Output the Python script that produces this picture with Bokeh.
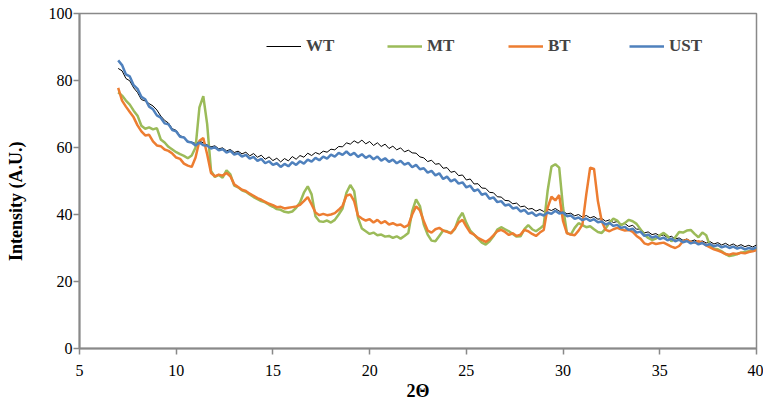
from bokeh.plotting import figure
from bokeh.models import FixedTicker, Legend, LegendItem, Range1d
from bokeh.embed import file_html
from bokeh.resources import INLINE

# 2-theta grid (step 0.2 from 7.0 to 40.0)
two_theta = [round(7.0 + 0.2 * i, 1) for i in range(166)]

wt = [83.6, 82.9, 80.6, 79.9, 77.8, 76.4, 74.3, 73.9, 73.1, 72.4,
      71.2, 69.4, 68.1, 67.3, 65.6, 65.1, 63.5, 63.1, 61.9, 61.6,
      61.2, 61.9, 61.4, 60.8, 60.2, 60.5, 59.6, 59.9, 59.0, 59.4,
      58.5, 58.9, 58.1, 58.6, 57.5, 58.2, 57.1, 57.7, 56.5, 57.2,
      56.1, 56.8, 55.7, 56.7, 56.0, 57.3, 56.5, 57.6, 57.1, 58.3,
      57.6, 58.5, 58.0, 58.9, 58.6, 59.5, 59.3, 60.3, 60.2, 61.4,
      61.0, 62.0, 61.3, 62.2, 61.1, 61.8, 60.6, 61.4, 60.3, 61.0,
      59.7, 60.4, 59.3, 59.9, 58.7, 59.2, 58.4, 58.3, 57.2, 56.9,
      55.8, 56.2, 55.0, 55.2, 53.8, 54.0, 52.6, 52.9, 51.6, 51.8,
      50.3, 50.6, 49.1, 49.2, 47.9, 47.8, 46.6, 46.5, 45.3, 45.2,
      44.2, 44.1, 43.2, 43.4, 42.3, 42.5, 41.6, 41.8, 41.0, 41.5,
      40.9, 41.6, 41.2, 41.8, 41.0, 40.9, 40.2, 40.4, 39.6, 40.0,
      39.2, 39.7, 39.0, 39.4, 38.6, 38.8, 38.0, 38.4, 37.6, 37.9,
      37.1, 37.3, 36.4, 36.8, 35.6, 35.7, 34.5, 34.8, 34.0, 34.3,
      33.6, 33.9, 33.1, 33.5, 32.7, 33.0, 32.3, 32.7, 32.0, 32.4,
      31.8, 32.1, 31.5, 31.9, 31.2, 31.6, 30.9, 31.4, 30.7, 31.2,
      30.5, 31.0, 30.4, 30.8, 30.3, 30.9]

mt = [76.5, 75.5, 74.0, 72.8, 71.0, 69.5, 66.5, 65.6, 66.0, 65.4,
      65.8, 62.4, 61.5, 60.2, 59.4, 58.6, 58.0, 57.5, 56.8, 57.6,
      60.0, 72.0, 75.3, 67.0, 53.0, 51.2, 51.8, 51.0, 53.2, 52.0,
      48.6, 48.1, 47.2, 46.8, 46.0, 45.2, 44.6, 44.0, 43.6, 42.9,
      42.3, 41.6, 41.4, 40.8, 40.6, 40.9, 42.0, 43.6, 46.5, 48.4,
      46.0, 39.5, 38.0, 37.8, 38.2, 37.6, 38.4, 40.0, 41.8, 46.5,
      48.8, 47.0, 39.0, 35.8, 35.0, 34.2, 34.6, 33.8, 34.0, 33.4,
      33.6, 33.0, 33.5, 32.8, 33.6, 34.5, 41.0, 44.5, 42.5, 37.0,
      34.0, 32.2, 32.0, 33.6, 35.2, 35.0, 34.4, 35.6, 38.8, 40.5,
      37.5, 35.2, 34.0, 32.8, 31.6, 31.0, 32.0, 33.5, 35.5, 36.2,
      35.6, 35.0, 34.2, 33.4, 33.5, 35.6, 36.8, 35.6, 35.0, 35.8,
      36.8, 47.0, 54.3, 55.0, 54.0, 42.0, 34.5, 34.0, 36.0, 37.4,
      36.8, 36.2, 36.5, 35.6, 34.8, 34.5, 35.8, 37.6, 38.8, 38.2,
      36.8, 37.5, 38.4, 38.0, 37.2, 35.6, 34.0, 33.0, 32.4, 32.8,
      33.8, 34.5, 33.6, 32.0, 33.2, 34.8, 34.6, 35.2, 35.4, 34.2,
      33.2, 34.6, 33.8, 30.6, 29.8, 29.6, 29.0, 28.2, 27.6, 27.8,
      28.2, 28.6, 28.8, 29.0, 29.4, 29.8]

bt = [77.8, 74.0, 72.2, 70.6, 69.0, 66.6, 64.8, 63.6, 63.8, 61.8,
      60.6, 60.4, 59.4, 59.0, 58.2, 57.0, 56.6, 55.2, 54.6, 54.2,
      57.0, 62.0, 62.8, 58.0, 52.4, 51.4, 51.9, 51.6, 52.4, 51.4,
      49.0, 48.2, 47.4, 47.0, 46.2, 45.6, 44.9, 44.4, 43.8, 43.2,
      42.8, 42.2, 42.3, 41.8, 42.0, 42.2, 42.4, 42.9, 44.0, 45.2,
      43.0, 40.6, 39.8, 40.2, 39.8, 40.0, 40.4, 41.4, 42.6, 45.6,
      46.0, 44.0, 39.6, 38.8, 38.2, 38.6, 37.6, 38.4, 37.4, 38.0,
      37.0, 37.4, 36.8, 37.0, 36.2, 36.8, 40.0, 42.4, 41.2, 38.0,
      35.2, 34.6, 35.6, 36.0, 35.2, 34.8, 34.4, 35.8, 37.6, 38.4,
      36.4, 34.6, 34.0, 33.0, 32.4, 31.8, 32.6, 33.8, 35.0, 35.4,
      34.8, 33.9, 34.4, 33.6, 34.0, 35.4, 35.0, 34.2, 33.6, 34.6,
      35.4, 42.0, 45.3, 44.2, 45.8, 38.0, 34.4, 34.0, 33.8, 35.2,
      37.0, 46.0, 54.0, 53.6, 44.0, 38.0, 35.4, 35.0, 35.6, 36.0,
      35.6, 35.2, 35.4, 34.8, 33.6, 32.8, 31.4, 31.0, 31.6, 31.2,
      31.4, 31.6, 31.0, 30.4, 30.0, 30.6, 32.0, 32.4, 31.8, 31.6,
      32.0, 31.6, 30.8, 30.2, 29.6, 29.2, 28.8, 28.2, 28.0, 28.4,
      28.2, 28.6, 28.4, 28.8, 29.0, 29.4]

ust = [86.0, 84.6, 81.8, 81.2, 78.6, 77.5, 75.1, 74.4, 72.2, 71.4,
       69.6, 68.9, 67.2, 66.9, 65.2, 64.8, 63.2, 63.0, 61.7, 61.5,
       60.6, 61.5, 60.7, 60.6, 59.7, 60.1, 59.2, 59.5, 58.5, 59.0,
       57.9, 58.3, 57.3, 57.8, 56.7, 57.2, 56.0, 56.6, 55.3, 55.9,
       54.8, 55.3, 54.2, 55.1, 54.4, 55.6, 54.8, 55.9, 55.2, 56.4,
       55.8, 56.9, 56.2, 57.3, 56.7, 57.9, 57.3, 58.4, 57.8, 58.8,
       57.7, 58.4, 57.2, 58.0, 56.9, 57.6, 56.5, 57.3, 56.1, 56.8,
       55.7, 56.4, 55.3, 56.0, 54.9, 55.4, 54.1, 54.8, 53.5, 53.8,
       52.5, 53.0, 51.7, 52.3, 50.6, 51.3, 49.9, 50.5, 49.2, 49.6,
       48.1, 48.6, 47.0, 47.5, 45.9, 46.3, 44.7, 45.1, 43.7, 44.0,
       42.7, 43.0, 41.8, 42.1, 40.9, 41.4, 40.2, 40.6, 39.6, 40.2,
       39.7, 40.6, 40.2, 41.1, 40.3, 40.6, 39.5, 39.7, 38.7, 39.1,
       38.3, 38.8, 38.1, 38.6, 37.7, 37.9, 37.0, 37.5, 36.6, 36.9,
       36.0, 36.3, 35.4, 35.8, 34.6, 34.9, 33.6, 34.0, 33.1, 33.5,
       32.7, 33.1, 32.3, 32.8, 32.0, 32.5, 31.7, 32.1, 31.4, 31.8,
       31.1, 31.5, 30.8, 31.2, 30.5, 30.9, 30.2, 30.6, 30.0, 30.4,
       29.8, 30.2, 29.6, 30.0, 29.7, 30.2]

series_names = ["WT", "MT", "BT", "UST"]
x_ticks = [5, 10, 15, 20, 25, 30, 35, 40]
y_ticks = [0, 20, 40, 60, 80, 100]

FONT = "Liberation Serif"
AXIS_GRAY = "#898989"

p = figure(width=763, height=403, output_backend="svg", toolbar_location=None,
           x_range=Range1d(5, 40), y_range=Range1d(0, 100),
           min_border_left=79, min_border_right=7, min_border_top=13, min_border_bottom=54)
p.background_fill_color = "white"
p.border_fill_color = "white"
p.outline_line_color = AXIS_GRAY
p.outline_line_width = 1.5
p.xgrid.visible = False
p.ygrid.visible = False

r_wt = p.line(two_theta, wt, line_color="black", line_width=1)
r_mt = p.line(two_theta, mt, line_color="#9BBB59", line_width=2.5)
r_bt = p.line(two_theta, bt, line_color="#ED7D31", line_width=2.5)
r_ust = p.line(two_theta, ust, line_color="#4F81BD", line_width=2.5)

for ax in (p.xaxis[0], p.yaxis[0]):
    ax.axis_line_color = AXIS_GRAY
    ax.axis_line_width = 2
    ax.major_tick_line_color = AXIS_GRAY
    ax.major_tick_line_width = 1.5
    ax.major_tick_out = 6
    ax.major_tick_in = 0
    ax.minor_tick_line_color = None
    ax.major_label_text_font = FONT
    ax.major_label_text_font_size = "16px"
    ax.major_label_text_color = "black"
    ax.axis_label_text_font = FONT
    ax.axis_label_text_font_size = "18px"
    ax.axis_label_text_font_style = "bold"
    ax.axis_label_text_color = "black"

p.xaxis[0].major_label_standoff = 10
p.yaxis[0].major_label_standoff = 1
p.xaxis[0].ticker = FixedTicker(ticks=x_ticks)
p.yaxis[0].ticker = FixedTicker(ticks=y_ticks)
p.xaxis[0].axis_label = "2Θ"
p.xaxis[0].axis_label_standoff = 2
# trailing no-break spaces shift the visible title a little below the frame centre
p.yaxis[0].axis_label = "Intensity (A.U.)" + "\u00a0" * 9
p.yaxis[0].axis_label_standoff = 20

legend = Legend(items=[LegendItem(label=n, renderers=[r]) for n, r in
                       zip(series_names, [r_wt, r_mt, r_bt, r_ust])],
                orientation="horizontal", location=(187, 292))
legend.padding = 0
legend.margin = 0
legend.spacing = 5
legend.glyph_width = 35
legend.label_standoff = 5
legend.label_width = 76
legend.label_text_font = FONT
legend.label_text_font_size = "17px"
legend.label_text_font_style = "bold"
legend.border_line_alpha = 0
legend.background_fill_alpha = 0
p.add_layout(legend, "center")

open("out.html", "w").write(file_html(p, INLINE))
